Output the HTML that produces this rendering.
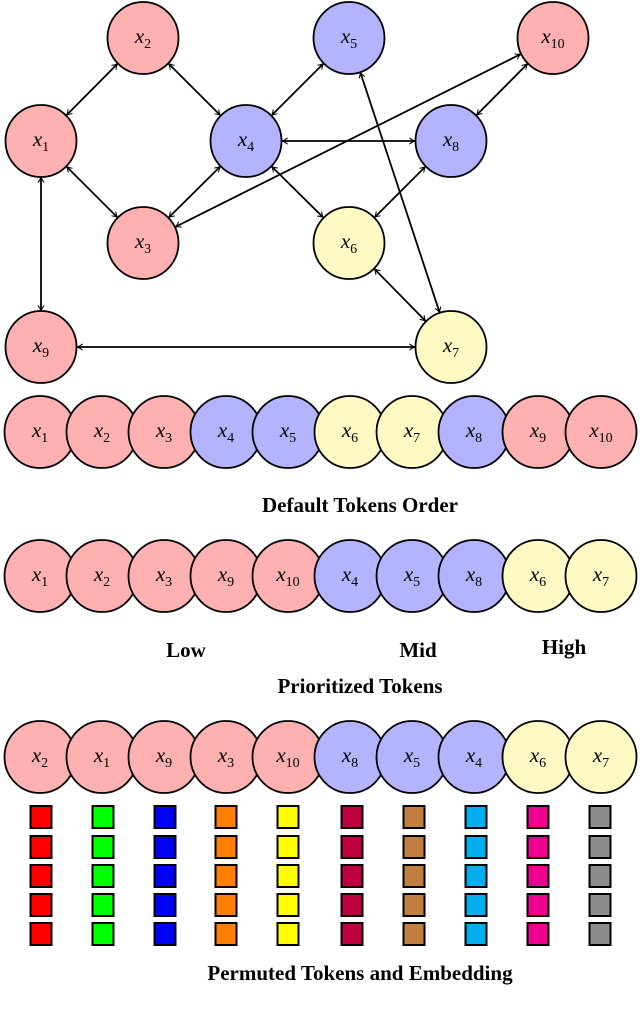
<!DOCTYPE html>
<html><head><meta charset="utf-8"><style>
body{margin:0;background:#fff;}
svg{display:block;}
text{font-family:"Liberation Serif",serif;}
.t{font-style:italic;font-size:21px;}
.s{font-size:14px;font-style:normal;}
.b{font-weight:bold;font-size:21px;}
</style></head><body>
<svg id="sv" width="640" height="1016" viewBox="0 0 640 1016" xmlns="http://www.w3.org/2000/svg">
<defs>
<marker id="a" viewBox="0 0 10 10" refX="9" refY="5" markerWidth="7" markerHeight="7" orient="auto-start-reverse" markerUnits="userSpaceOnUse">
<path d="M1,0.5 Q5,4 9.5,5 Q5,6 1,9.5" fill="none" stroke="#000" stroke-width="1.4"/>
</marker>
</defs>
<g id="edges" stroke="#000" stroke-width="1.8" fill="none"></g>
<g id="nodes"></g>
<text class="b" x="360" y="512" text-anchor="middle">Default Tokens Order</text>
<text class="b" x="186" y="657" text-anchor="middle">Low</text>
<text class="b" x="418" y="657" text-anchor="middle">Mid</text>
<text class="b" x="564" y="654" text-anchor="middle">High</text>
<text class="b" x="360" y="693" text-anchor="middle">Prioritized Tokens</text>
<text class="b" x="360" y="980" text-anchor="middle">Permuted Tokens and Embedding</text>
<g id="sq"></g>
</svg>
<script>
var NS="http://www.w3.org/2000/svg";
var P="#ffb0b0",B="#b3b3ff",Y="#fffac4";
var R=36;
var G={1:[41,141,P],2:[143,38,P],3:[143,243,P],4:[246,141,B],5:[349,38,B],6:[349,243,Y],7:[451,347,Y],8:[451,141,B],9:[41,347,P],10:[553,38,P]};
var E=[[1,2],[2,4],[1,3],[3,4],[4,5],[4,8],[4,6],[8,6],[10,8],[10,3],[5,7],[6,7],[1,9],[9,7]];
var eg=document.getElementById('edges'),ng=document.getElementById('nodes');
E.forEach(function(e){var a=G[e[0]],b=G[e[1]];var dx=b[0]-a[0],dy=b[1]-a[1],d=Math.hypot(dx,dy);var ux=dx/d,uy=dy/d;
var l=document.createElementNS(NS,'line');l.setAttribute('x1',a[0]+ux*R);l.setAttribute('y1',a[1]+uy*R);l.setAttribute('x2',b[0]-ux*R);l.setAttribute('y2',b[1]-uy*R);
l.setAttribute('marker-start','url(#a)');l.setAttribute('marker-end','url(#a)');eg.appendChild(l);});
function node(x,y,c,n){var e=document.createElementNS(NS,'ellipse');e.setAttribute('cx',x);e.setAttribute('cy',y);e.setAttribute('rx',35.5);e.setAttribute('ry',36);e.setAttribute('fill',c);e.setAttribute('stroke','#000');e.setAttribute('stroke-width','1.8');ng.appendChild(e);
var t=document.createElementNS(NS,'text');t.setAttribute('class','t');t.setAttribute('x',x);t.setAttribute('y',y+5);t.setAttribute('text-anchor','middle');
t.innerHTML='x<tspan class="s" dy="5">'+n+'</tspan>';ng.appendChild(t);}
for(var k in G)node(G[k][0],G[k][1],G[k][2],k);
var X=[40,102,164,226,288,350,412,474,538,601];
function row(y,ids){ids.forEach(function(i,j){node(X[j],y,G[i][2],i);});}
row(432,[1,2,3,4,5,6,7,8,9,10]);
row(576,[1,2,3,9,10,4,5,8,6,7]);
row(757,[2,1,9,3,10,8,5,4,6,7]);
var C=["#ff0000","#00ff00","#0000ff","#ff8000","#ffff00","#bf0040","#bf8040","#00aeef","#ec008c","#8c8c8c"];
var SX=[41,103,165,226,288,352,414,476,538,600],SY=[817,847,876,905,934];
var sg=document.getElementById('sq');
SY.forEach(function(y){SX.forEach(function(x,j){var r=document.createElementNS(NS,'rect');r.setAttribute('x',x-10.5);r.setAttribute('y',y-11);r.setAttribute('width',21);r.setAttribute('height',22);r.setAttribute('fill',C[j]);r.setAttribute('stroke','#000');r.setAttribute('stroke-width','2');sg.appendChild(r);});});
</script>
</body></html>
